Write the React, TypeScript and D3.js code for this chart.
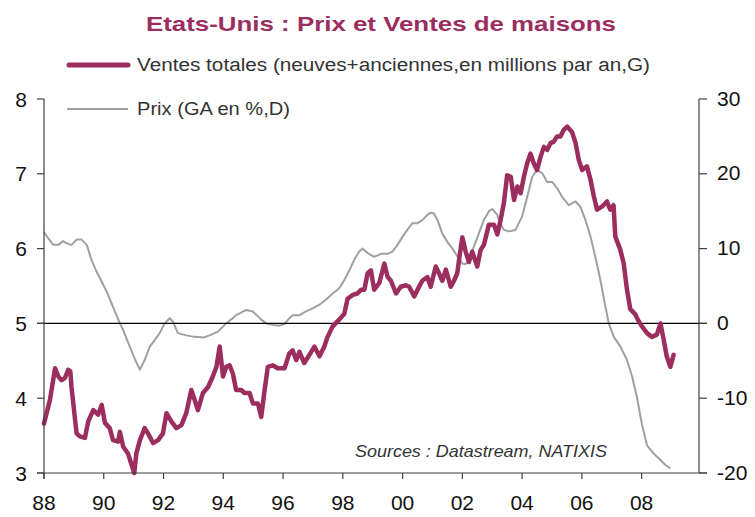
import React from "react";
import * as d3 from "d3";

const TITLE = "Etats-Unis : Prix et Ventes de maisons";
const LEGEND_SALES = "Ventes totales (neuves+anciennes,en millions par an,G)";
const LEGEND_PRICE = "Prix (GA en %,D)";
const SOURCE = "Sources : Datastream, NATIXIS";

const xTickYears = [1988, 1990, 1992, 1994, 1996, 1998, 2000, 2002, 2004, 2006, 2008];
const xTickLabels = ["88", "90", "92", "94", "96", "98", "00", "02", "04", "06", "08"];
const leftTicks = [3, 4, 5, 6, 7, 8];
const rightTicks = [-20, -10, 0, 10, 20, 30];

// Ventes totales (millions par an) : [année décimale, valeur]
const sales: [number, number][] = [
  [1988.0, 3.66], [1988.2, 3.98], [1988.37, 4.4], [1988.48, 4.29], [1988.59, 4.24], [1988.7, 4.27],
  [1988.81, 4.38], [1988.88, 4.36], [1988.92, 4.15], [1989.09, 3.53], [1989.2, 3.49], [1989.37, 3.47],
  [1989.48, 3.69], [1989.65, 3.84], [1989.81, 3.78], [1989.93, 3.91], [1990.04, 3.67], [1990.2, 3.6],
  [1990.31, 3.44], [1990.48, 3.42], [1990.54, 3.55], [1990.65, 3.35], [1990.81, 3.26], [1990.98, 3.05],
  [1991.02, 3.0], [1991.09, 3.26], [1991.21, 3.44], [1991.37, 3.6], [1991.48, 3.53], [1991.65, 3.4],
  [1991.82, 3.44], [1991.98, 3.53], [1992.1, 3.8], [1992.26, 3.69], [1992.43, 3.6], [1992.6, 3.64],
  [1992.76, 3.8], [1992.93, 4.11], [1993.04, 3.98], [1993.15, 3.84], [1993.32, 4.07], [1993.49, 4.15],
  [1993.65, 4.29], [1993.77, 4.42], [1993.88, 4.69], [1993.99, 4.29], [1994.1, 4.42], [1994.21, 4.44],
  [1994.32, 4.33], [1994.43, 4.11], [1994.6, 4.11], [1994.71, 4.07], [1994.88, 4.07], [1994.99, 3.93],
  [1995.16, 3.93], [1995.27, 3.75], [1995.38, 4.1], [1995.49, 4.42], [1995.66, 4.44], [1995.82, 4.4],
  [1996.05, 4.4], [1996.21, 4.6], [1996.32, 4.64], [1996.44, 4.51], [1996.55, 4.62], [1996.71, 4.47],
  [1996.88, 4.58], [1997.05, 4.69], [1997.22, 4.56], [1997.38, 4.69], [1997.49, 4.82], [1997.66, 4.96],
  [1997.88, 5.05], [1998.05, 5.13], [1998.16, 5.33], [1998.33, 5.38], [1998.49, 5.4], [1998.61, 5.45],
  [1998.72, 5.45], [1998.83, 5.67], [1998.94, 5.71], [1999.05, 5.45], [1999.22, 5.54], [1999.39, 5.8],
  [1999.5, 5.62], [1999.61, 5.57], [1999.78, 5.4], [1999.94, 5.49], [2000.11, 5.51], [2000.22, 5.49],
  [2000.39, 5.36], [2000.55, 5.49], [2000.66, 5.57], [2000.83, 5.62], [2000.94, 5.49], [2001.11, 5.76],
  [2001.22, 5.67], [2001.33, 5.57], [2001.45, 5.72], [2001.61, 5.49], [2001.72, 5.57], [2001.83, 5.67],
  [2001.89, 5.85], [2002.0, 6.15], [2002.11, 5.96], [2002.22, 5.82], [2002.33, 5.96], [2002.5, 5.76],
  [2002.61, 5.98], [2002.72, 6.05], [2002.89, 6.32], [2003.06, 6.32], [2003.17, 6.19], [2003.28, 6.38],
  [2003.39, 6.61], [2003.5, 6.98], [2003.62, 6.96], [2003.73, 6.65], [2003.84, 6.83], [2003.95, 6.74],
  [2004.06, 6.96], [2004.17, 7.14], [2004.28, 7.27], [2004.39, 7.14], [2004.5, 7.05], [2004.62, 7.23],
  [2004.73, 7.36], [2004.84, 7.32], [2004.95, 7.41], [2005.06, 7.43], [2005.17, 7.5], [2005.28, 7.5],
  [2005.4, 7.59], [2005.51, 7.63], [2005.67, 7.56], [2005.79, 7.41], [2005.9, 7.18], [2006.01, 7.05],
  [2006.17, 7.1], [2006.29, 6.92], [2006.4, 6.7], [2006.51, 6.52], [2006.67, 6.56], [2006.84, 6.63],
  [2006.95, 6.52], [2007.06, 6.58], [2007.12, 6.16], [2007.29, 5.98], [2007.4, 5.8], [2007.51, 5.45],
  [2007.62, 5.19], [2007.79, 5.12], [2007.9, 5.03], [2008.01, 4.96], [2008.18, 4.87], [2008.34, 4.82],
  [2008.51, 4.85], [2008.63, 5.0], [2008.74, 4.78], [2008.84, 4.56], [2008.96, 4.42], [2009.07, 4.58],
];

// Prix (glissement annuel en %) : [année décimale, valeur]
const price: [number, number][] = [
  [1988.0, 12.2], [1988.14, 11.4], [1988.31, 10.5], [1988.48, 10.5], [1988.64, 11.0], [1988.76, 10.7],
  [1988.92, 10.5], [1989.09, 11.2], [1989.26, 11.2], [1989.43, 10.5], [1989.59, 8.5], [1989.76, 6.9],
  [1989.93, 5.6], [1990.09, 4.3], [1990.31, 2.2], [1990.54, 0.0], [1990.65, -0.9], [1990.87, -3.1],
  [1991.1, -5.3], [1991.21, -6.2], [1991.37, -4.9], [1991.54, -3.1], [1991.71, -2.2], [1991.87, -1.3],
  [1992.04, 0.0], [1992.21, 0.7], [1992.32, 0.2], [1992.48, -1.3], [1992.76, -1.6], [1993.04, -1.8],
  [1993.32, -1.9], [1993.54, -1.6], [1993.82, -1.1], [1994.1, 0.0], [1994.43, 1.1], [1994.77, 1.8],
  [1994.99, 1.6], [1995.27, 0.5], [1995.44, 0.0], [1995.66, -0.2], [1995.88, -0.3], [1996.05, -0.1],
  [1996.21, 0.7], [1996.32, 1.1], [1996.55, 1.1], [1996.77, 1.6], [1996.99, 2.0], [1997.22, 2.5],
  [1997.44, 3.2], [1997.66, 4.0], [1997.88, 4.7], [1998.05, 5.8], [1998.22, 7.1], [1998.38, 8.5],
  [1998.55, 9.6], [1998.66, 10.0], [1998.83, 9.4], [1999.05, 8.9], [1999.28, 9.3], [1999.5, 9.3],
  [1999.66, 9.6], [1999.83, 10.5], [2000.0, 11.6], [2000.16, 12.5], [2000.33, 13.4], [2000.5, 13.4],
  [2000.66, 13.8], [2000.83, 14.5], [2000.94, 14.8], [2001.05, 14.7], [2001.17, 13.8], [2001.33, 12.0],
  [2001.5, 10.9], [2001.67, 10.0], [2001.83, 9.0], [2002.0, 8.0], [2002.11, 7.9], [2002.22, 8.6],
  [2002.39, 10.3], [2002.55, 12.0], [2002.72, 13.8], [2002.89, 15.0], [2003.0, 15.3], [2003.17, 14.5],
  [2003.22, 13.8], [2003.39, 12.5], [2003.56, 12.3], [2003.78, 12.5], [2004.0, 14.3], [2004.17, 16.9],
  [2004.34, 19.6], [2004.5, 20.5], [2004.67, 20.1], [2004.84, 18.9], [2005.01, 18.9], [2005.17, 18.1],
  [2005.34, 16.9], [2005.56, 15.8], [2005.79, 16.3], [2005.95, 15.6], [2006.12, 13.8], [2006.29, 11.6],
  [2006.45, 8.9], [2006.62, 5.8], [2006.79, 2.2], [2006.9, 0.0], [2007.07, -1.8], [2007.29, -3.1],
  [2007.51, -4.9], [2007.68, -7.1], [2007.84, -9.8], [2008.01, -13.5], [2008.18, -16.3], [2008.4, -17.4],
  [2008.56, -18.0], [2008.79, -18.9], [2008.96, -19.4],
];

const MAROON = "#9b2d5f";
const GREY = "#a0a0a0";
const AXIS = "#404040";
const FONT = "'Liberation Sans', Arial, sans-serif";

export default function App() {
  const W = 755;
  const H = 517;
  const left = 44;
  const right = 699;
  const top = 99;
  const bottom = 473;

  const x = d3.scaleLinear().domain([1988, 2009.92]).range([left, right]);
  const yL = d3.scaleLinear().domain([3, 8]).range([bottom, top]);
  const yR = d3.scaleLinear().domain([-20, 30]).range([bottom, top]);

  const salesLine = d3
    .line<[number, number]>()
    .x((d) => x(d[0]))
    .y((d) => yL(d[1]))
    .curve(d3.curveLinear);
  const priceLine = d3
    .line<[number, number]>()
    .x((d) => x(d[0]))
    .y((d) => yR(d[1]))
    .curve(d3.curveLinear);

  return (
    <svg
      width={W}
      height={H}
      style={{ position: "absolute", left: 0, top: 0, background: "#fff" }}
      fontFamily={FONT}
    >
      <rect x={0} y={0} width={W} height={H} fill="#fff" />
      {/* title */}
      <text
        x={146}
        y={31}
        fontSize={21}
        fontWeight="bold"
        fill={MAROON}
        textLength={470}
        lengthAdjust="spacingAndGlyphs"
      >
        {TITLE}
      </text>

      {/* legend */}
      <line x1={69} x2={128} y1={65} y2={65} stroke={MAROON} strokeWidth={5} strokeLinecap="round" />
      <text x={137} y={71} fontSize={18} fill="#333" textLength={513} lengthAdjust="spacingAndGlyphs">
        {LEGEND_SALES}
      </text>
      <line x1={67} x2={128} y1={109} y2={109} stroke={GREY} strokeWidth={2} />
      <text x={137} y={115} fontSize={18} fill="#333" textLength={153} lengthAdjust="spacingAndGlyphs">
        {LEGEND_PRICE}
      </text>

      {/* price series */}
      <path d={priceLine(price) || ""} fill="none" stroke={GREY} strokeWidth={2} strokeLinejoin="round" />

      {/* zero line */}
      <line x1={left - 7} x2={right + 8} y1={yL(5)} y2={yL(5)} stroke="#000" strokeWidth={1.2} />

      {/* sales series */}
      <path d={salesLine(sales) || ""} fill="none" stroke={MAROON} strokeWidth={4.5} strokeLinejoin="round" strokeLinecap="round" />

      {/* axes */}
      <line x1={left} x2={left} y1={top} y2={bottom + 6} stroke={AXIS} strokeWidth={1.2} />
      <line x1={right} x2={right} y1={top} y2={bottom} stroke={AXIS} strokeWidth={1.2} />
      <line x1={left - 7} x2={right + 8} y1={bottom} y2={bottom} stroke={AXIS} strokeWidth={1.2} />

      {leftTicks.map((t) => (
        <g key={"l" + t}>
          <line x1={left - 7} x2={left} y1={yL(t)} y2={yL(t)} stroke={AXIS} strokeWidth={1.2} />
          <text x={27} y={yL(t)} fontSize={21} textAnchor="end" dominantBaseline="central" fill="#111">
            {t}
          </text>
        </g>
      ))}
      {rightTicks.map((t) => (
        <g key={"r" + t}>
          <line x1={right} x2={right + 8} y1={yR(t)} y2={yR(t)} stroke={AXIS} strokeWidth={1.2} />
          <text x={717} y={yR(t) - 1} fontSize={21} textAnchor="start" dominantBaseline="central" fill="#111">
            {t}
          </text>
        </g>
      ))}
      {xTickYears.map((t, i) => (
        <g key={"x" + t}>
          <line x1={x(t)} x2={x(t)} y1={bottom} y2={bottom + 6} stroke={AXIS} strokeWidth={1.2} />
          <text x={x(t)} y={510} fontSize={21} textAnchor="middle" fill="#111">
            {xTickLabels[i]}
          </text>
        </g>
      ))}

      {/* source */}
      <text x={355} y={457} fontSize={17} fontStyle="italic" fill="#333" textLength={252} lengthAdjust="spacingAndGlyphs">
        {SOURCE}
      </text>
    </svg>
  );
}
